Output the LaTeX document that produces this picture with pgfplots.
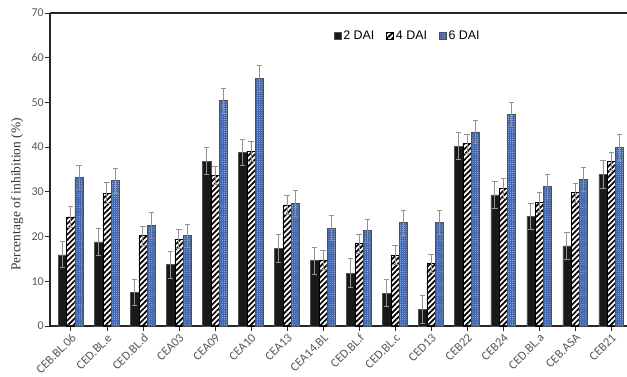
\documentclass[border=0pt]{standalone}
\usepackage{pgfplots}
\pgfplotsset{compat=1.18}
\usepackage{pgfplotstable}
\usepackage{fontspec}
\setmainfont{Liberation Serif}
\newfontfamily\carlito{Carlito}
\newfontfamily\arial{Liberation Sans}
\usetikzlibrary{patterns,patterns.meta}
\definecolor{tickgray}{HTML}{595959}
\definecolor{barblue}{HTML}{3D66B5}
\definecolor{edgegray}{HTML}{505050}
\pgfplotstableread{
x y2 e2 y4 e4 y6 e6
0 15.9 2.9 24.4 2.3 33.3 2.7
1 18.8 3.1 29.7 2.3 32.5 2.8
2 7.6 2.9 20.2 2.1 22.5 2.9
3 13.7 3.0 19.4 2.1 20.2 2.6
4 36.9 3.0 33.7 2.0 50.4 2.8
5 38.8 3.0 39.1 2.2 55.4 2.9
6 17.4 3.1 27.1 2.1 27.5 2.9
7 14.6 3.0 14.8 2.2 21.9 2.8
8 11.8 3.2 18.4 2.1 21.3 2.6
9 7.3 3.0 15.9 2.1 23.1 2.8
10 3.7 3.1 14.0 2.1 23.1 2.7
11 40.2 3.0 40.8 2.1 43.4 2.6
12 29.3 3.1 30.8 2.2 47.3 2.7
13 24.5 3.0 27.6 2.2 31.2 2.7
14 17.9 3.0 29.8 2.1 32.8 2.7
15 33.9 3.1 36.8 2.0 40.0 2.9
}\datatable
\begin{document}
\begin{tikzpicture}
\begin{axis}[
  at={(0,0)}, anchor=south west,
  scale only axis,
  width=577bp, height=313bp,
  xmin=-0.58, xmax=15.44,
  ymin=0, ymax=70,
  ytick={0,10,...,70},
  xtick={0,...,15},
  xticklabels={CEB.BL.06,CED.BL.e,CED.BL.d,CEA03,CEA09,CEA10,CEA13,CEA14.BL,CED.BL.f,CED.BL.c,CED13,CEB22,CEB24,CED.BL.a,CEB.ASA,CEB21},
  axis x line=box, axis y line=left,
  axis line style={-, line width=1.2bp, color=black!85},
  tick style={black!85, line width=0.8bp},
  tick align=outside,
  major tick length=5bp,
  xtick pos=bottom, ytick pos=left,
  ticklabel style={font=\carlito\fontsize{12}{14}\selectfont, text=tickgray},
  yticklabel style={inner sep=1bp},
  /pgf/number format/assume math mode=true,
  xticklabel style={rotate=45, anchor=north east, inner sep=1.2bp, font=\carlito\fontsize{12.5}{14}\selectfont},
  ylabel={Percentage of inhibition (\%)},
  ylabel style={font=\fontsize{13.5}{15}\selectfont, text=black!80, at={(axis description cs:-0.057,0.42)}, anchor=center},
  ybar=0pt, bar width=8.2bp,
  legend style={draw=none, fill=none, at={(0.62,0.926)}, anchor=center,
    legend columns=3, font=\arial\fontsize{12.5}{14}\selectfont,
    /tikz/every even column/.append style={column sep=10bp}},
  legend image code/.code={\draw[#1, line width=0.5bp] (0bp,-3.5bp) rectangle (7bp,3.5bp);},
  legend cell align=left,
  error bars/y dir=both, error bars/y explicit,
  error bars/error bar style={line width=0.9bp, color=gray!85},
  error bars/error mark options={rotate=90, mark size=2.6bp, line width=0.9bp, color=gray!85},
]
\addplot[draw=edgegray, fill=black!90, line width=0.6bp] table[x=x, y=y2, y error=e2] {\datatable};
\addplot[draw=black, line width=0.6bp, fill=white, pattern={Lines[angle=45,distance=3.8bp,line width=1.7bp]}, pattern color=black] table[x=x, y=y4, y error=e4] {\datatable};
\addplot[draw=edgegray, line width=0.6bp, fill=barblue, postaction={pattern={Dots[distance=2.2bp,radius=0.45bp]}, pattern color=white!75!barblue}] table[x=x, y=y6, y error=e6] {\datatable};
\legend{2 DAI,4 DAI,6 DAI}
\end{axis}
\pgfresetboundingbox
\path[use as bounding box] (-50bp,-51bp) rectangle (577bp,326bp);
\end{tikzpicture}
\end{document}
